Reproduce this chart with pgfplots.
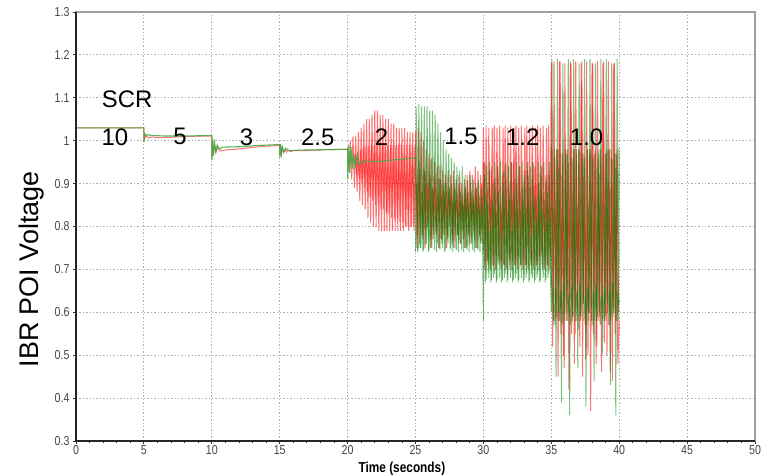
\documentclass[border=0pt]{standalone}
\usepackage{pgfplots}
\pgfplotsset{compat=1.18}
\usepackage{fontspec}
\setmainfont{Liberation Sans}
\newfontfamily\narrowfont[FakeStretch=0.82]{Liberation Sans}
\usetikzlibrary{calc}
\definecolor{sgreen}{RGB}{0,128,0}
\definecolor{lgreen}{RGB}{70,170,70}
\definecolor{sred}{RGB}{255,0,0}
\definecolor{ticklab}{RGB}{70,70,70}
\begin{document}
\begin{tikzpicture}
\begin{axis}[
  name=ax,
  scale only axis,
  width=679bp, height=429bp,
  xmin=0, xmax=50, ymin=0.3, ymax=1.3,
  xtick={0,5,...,50},
  ytick={0.3,0.4,0.5,0.6,0.7,0.8,0.9,1,1.1,1.2,1.3},
  minor x tick num=4,
  tick align=outside,
  major tick length=3bp, minor tick length=2bp,
  tick style={black!80, line width=0.8bp},
  xtick pos=bottom, ytick pos=left,
  grid=major,
  major grid style={gray!65, dash pattern=on 1.4bp off 2bp, line width=0.8bp},
  axis line style={draw=gray!75, line width=1.5bp},
  /pgf/number format/assume math mode=true,
  ticklabel style={font=\narrowfont\fontsize{13}{14}\selectfont, text=ticklab},
  xticklabel style={yshift=0.5bp, inner ysep=2bp},
  xlabel={Time (seconds)},
  xlabel style={font=\narrowfont\bfseries\fontsize{14.5}{15}\selectfont, at={(axis description cs:0.48,-0.064)}, anchor=center},
  ylabel={IBR POI Voltage},
  ylabel style={font=\fontsize{27}{28}\selectfont, at={(axis description cs:-0.0655,0.40)}, anchor=center},
  clip=true,
]
% red series A
\addplot[sred, line width=1bp, opacity=0.55] coordinates {
(0,1.03)(5,1.03)(5.01,1.0)(5.05,1.015)(5.12,1.008)(5.2,1.012)(5.35,1.006)(5.6,1.009)(6,1.007)(7,1.008)(8,1.01)(10,1.011)
(10.01,0.96)(10.06,1.0)(10.12,0.97)(10.2,0.99)(10.3,0.972)(10.45,0.985)(10.6,0.976)(10.9,0.978)(12,0.981)(13.5,0.986)(15,0.989)
(15.01,0.965)(15.06,0.99)(15.12,0.97)(15.2,0.983)(15.3,0.972)(15.4,0.98)(15.5,0.973)(15.6,0.978)(15.8,0.974)(16,0.977)(17,0.977)(18.5,0.979)(20,0.98)
(20.1,0.93)(20.2,1.00)(20.3,0.91)(20.4,1.01)(20.5,0.89)(20.6,1.01)(20.7,0.88)(20.8,1.02)(20.9,0.86)(21.0,1.03)
(21.1,0.85)(21.2,1.04)(21.3,0.84)(21.4,1.05)(21.5,0.82)(21.6,1.05)(21.7,0.81)(21.8,1.06)(21.9,0.80)(22.0,1.07)
(22.1,0.80)(22.2,1.07)(22.3,0.79)(22.4,1.06)(22.5,0.79)(22.6,1.06)(22.7,0.79)(22.8,1.05)(22.9,0.79)(23.0,1.05)
(23.1,0.79)(23.2,1.04)(23.3,0.79)(23.4,1.04)(23.5,0.79)(23.6,1.03)(23.7,0.79)(23.8,1.03)(23.9,0.79)(24.0,1.03)
(24.1,0.79)(24.2,1.03)(24.3,0.80)(24.4,1.02)(24.5,0.79)(24.6,1.02)(24.7,0.80)(24.8,1.02)(24.9,0.79)(25.0,1.02)
(25.1,0.75)(25.2,1.03)(25.3,0.76)(25.4,1.02)(25.5,0.78)(25.6,1.00)(25.7,0.75)(25.8,0.98)(25.9,0.80)(26.0,0.97)
(26.1,0.75)(26.2,0.96)(26.3,0.77)(26.4,0.95)(26.5,0.79)(26.6,0.94)(26.7,0.75)(26.8,0.94)(26.9,0.77)(27.0,0.93)
(27.1,0.78)(27.2,0.92)(27.3,0.75)(27.4,0.93)(27.5,0.80)(27.6,0.92)(27.7,0.76)(27.8,0.93)(27.9,0.75)(28.0,0.91)
(28.1,0.78)(28.2,0.92)(28.3,0.76)(28.4,0.90)(28.5,0.79)(28.6,0.91)(28.7,0.75)(28.8,0.92)(28.9,0.78)(29.0,0.93)
(29.1,0.76)(29.2,0.92)(29.3,0.79)(29.4,0.94)(29.5,0.75)(29.6,0.93)(29.7,0.78)(29.8,0.92)(29.9,0.76)(30.0,1.03)
(30.1,0.70)(30.2,1.035)(30.3,0.72)(30.4,1.03)(30.5,0.70)(30.6,0.94)(30.7,0.71)(30.8,1.035)(30.9,0.70)(31.0,1.03)
(31.1,0.73)(31.2,1.035)(31.3,0.70)(31.4,0.92)(31.5,0.71)(31.6,1.035)(31.7,0.70)(31.8,1.03)(31.9,0.72)(32.0,1.035)
(32.1,0.70)(32.2,0.95)(32.3,0.71)(32.4,1.035)(32.5,0.70)(32.6,1.03)(32.7,0.73)(32.8,1.035)(32.9,0.70)(33.0,0.93)
(33.1,0.71)(33.2,1.035)(33.3,0.70)(33.4,1.03)(33.5,0.72)(33.6,1.035)(33.7,0.70)(33.8,0.94)(33.9,0.71)(34.0,1.035)
(34.1,0.70)(34.2,1.03)(34.3,0.73)(34.4,1.035)(34.5,0.70)(34.6,0.92)(34.7,0.71)(34.8,1.035)(34.9,0.70)(35.0,1.18)
(35.1,0.52)(35.2,1.185)(35.3,0.58)(35.4,0.98)(35.5,0.45)(35.6,1.185)(35.7,0.55)(35.8,0.97)(35.9,0.50)(36.0,1.18)
(36.1,0.58)(36.2,0.98)(36.3,0.42)(36.4,1.185)(36.5,0.55)(36.6,0.96)(36.7,0.48)(36.8,1.185)(36.9,0.58)(37.0,0.98)
(37.1,0.52)(37.2,1.18)(37.3,0.45)(37.4,0.97)(37.5,0.57)(37.6,1.185)(37.7,0.50)(37.8,0.98)(37.9,0.37)(38.0,1.18)
(38.1,0.55)(38.2,0.97)(38.3,0.48)(38.4,1.185)(38.5,0.58)(38.6,0.98)(38.7,0.46)(38.8,1.18)(38.9,0.53)(39.0,0.97)
(39.1,0.50)(39.2,1.185)(39.3,0.57)(39.4,0.98)(39.5,0.44)(39.6,1.18)(39.7,0.55)(39.8,0.97)(39.9,0.48)(40.0,0.58)
};
% red inner oscillation (SCR 2)
\addplot[sred, line width=1bp, opacity=0.45] coordinates {
(20.55,0.97)(20.65,0.92)(20.75,0.975)(20.85,0.91)(20.95,0.98)(21.05,0.90)(21.15,0.98)(21.25,0.89)(21.35,0.985)(21.45,0.88)
(21.55,0.985)(21.65,0.87)(21.75,0.99)(21.85,0.86)(21.95,0.99)(22.05,0.85)(22.15,0.99)(22.25,0.85)(22.35,0.99)(22.45,0.84)
(22.55,0.99)(22.65,0.84)(22.75,0.99)(22.85,0.83)(22.95,0.99)(23.05,0.83)(23.15,0.99)(23.25,0.82)(23.35,0.99)(23.45,0.82)
(23.55,0.99)(23.65,0.82)(23.75,0.99)(23.85,0.81)(23.95,0.99)(24.05,0.81)(24.15,0.99)(24.25,0.80)(24.35,0.99)(24.45,0.80)
(24.55,0.99)(24.65,0.80)(24.75,0.99)(24.85,0.80)(24.95,0.99)
};
% red series B (25-40)
\addplot[sred, line width=1bp, opacity=0.55] coordinates {
(25.05,0.90)(25.15,0.78)(25.25,0.92)(25.35,0.80)(25.45,0.88)(25.55,0.77)(25.65,0.93)(25.75,0.79)(25.85,0.90)(25.95,0.81)
(26.05,0.91)(26.15,0.77)(26.25,0.89)(26.35,0.80)(26.45,0.92)(26.55,0.78)(26.65,0.88)(26.75,0.81)(26.85,0.91)(26.95,0.77)
(27.05,0.89)(27.15,0.80)(27.25,0.90)(27.35,0.78)(27.45,0.88)(27.55,0.82)(27.65,0.90)(27.75,0.77)(27.85,0.89)(27.95,0.80)
(28.05,0.88)(28.15,0.78)(28.25,0.90)(28.35,0.81)(28.45,0.87)(28.55,0.77)(28.65,0.89)(28.75,0.80)(28.85,0.88)(28.95,0.78)
(29.05,0.90)(29.15,0.81)(29.25,0.87)(29.35,0.77)(29.45,0.89)(29.55,0.80)(29.65,0.88)(29.75,0.78)(29.85,0.90)(29.95,0.79)
(30.05,0.95)(30.15,0.72)(30.25,0.88)(30.35,0.71)(30.45,0.93)(30.55,0.74)(30.65,1.03)(30.75,0.71)(30.85,0.90)(30.95,0.73)
(31.05,0.94)(31.15,0.71)(31.25,0.86)(31.35,0.72)(31.45,1.03)(31.55,0.71)(31.65,0.92)(31.75,0.74)(31.85,0.89)(31.95,0.71)
(32.05,0.95)(32.15,0.72)(32.25,1.03)(32.35,0.71)(32.45,0.90)(32.55,0.73)(32.65,0.94)(32.75,0.71)(32.85,0.87)(32.95,0.72)
(33.05,1.03)(33.15,0.71)(33.25,0.93)(33.35,0.74)(33.45,0.89)(33.55,0.71)(33.65,0.95)(33.75,0.72)(33.85,1.03)(33.95,0.71)
(34.05,0.90)(34.15,0.73)(34.25,0.94)(34.35,0.71)(34.45,0.88)(34.55,0.72)(34.65,1.03)(34.75,0.71)(34.85,0.92)(34.95,0.73)
(35.05,0.98)(35.15,0.60)(35.25,0.96)(35.35,0.62)(35.45,0.98)(35.55,0.58)(35.65,1.185)(35.75,0.61)(35.85,0.97)(35.95,0.47)
(36.05,0.98)(36.15,0.60)(36.25,0.95)(36.35,0.63)(36.45,1.18)(36.55,0.59)(36.65,0.98)(36.75,0.55)(36.85,0.97)(36.95,0.61)
(37.05,0.98)(37.15,0.58)(37.25,1.185)(37.35,0.62)(37.45,0.96)(37.55,0.49)(37.65,0.98)(37.75,0.60)(37.85,0.97)(37.95,0.58)
(38.05,1.18)(38.15,0.62)(38.25,0.98)(38.35,0.52)(38.45,0.96)(38.55,0.59)(38.65,0.98)(38.75,0.61)(38.85,1.185)(38.95,0.58)
(39.05,0.97)(39.15,0.60)(39.25,0.98)(39.35,0.46)(39.45,0.96)(39.55,0.61)(39.65,1.18)(39.75,0.58)(39.85,0.98)(39.95,0.60)
};
% green early part (0-25)
\addplot[lgreen, line width=1.1bp, opacity=0.9] coordinates {
(0,1.03)(5,1.03)(5.01,0.997)(5.05,1.017)(5.15,1.012)(5.3,1.014)(5.6,1.012)(6.5,1.011)(8,1.011)(10,1.012)
(10.01,0.955)(10.06,1.005)(10.12,0.965)(10.2,0.995)(10.3,0.975)(10.4,0.99)(10.55,0.98)(10.8,0.985)(12,0.986)(13.5,0.989)(15,0.991)
(15.01,0.962)(15.06,0.992)(15.12,0.968)(15.2,0.985)(15.3,0.974)(15.45,0.982)(15.7,0.977)(16.5,0.978)(18,0.979)(20,0.98)
(20.01,0.91)(20.08,0.99)(20.16,0.925)(20.25,0.985)(20.35,0.935)(20.45,0.97)(20.55,0.94)(20.7,0.965)(20.85,0.945)(21.1,0.952)(22,0.951)(23,0.954)(24,0.957)(25,0.96)
};
% green series A (25-40)
\addplot[sgreen, line width=1bp, opacity=0.5] coordinates {
(25,0.96)(25.0,0.74)(25.05,1.08)(25.15,0.74)(25.25,1.085)(25.35,0.75)(25.45,1.08)(25.55,0.74)(25.65,1.08)(25.75,0.76)(25.85,1.08)
(25.95,0.74)(26.05,1.07)(26.15,0.75)(26.25,1.07)(26.35,0.78)(26.45,1.06)(26.55,0.74)(26.65,1.04)(26.75,0.75)(26.85,1.02)
(26.95,0.76)(27.05,1.00)(27.15,0.74)(27.25,0.98)(27.35,0.77)(27.45,0.97)(27.55,0.75)(27.65,0.96)(27.75,0.74)(27.85,0.95)
(27.95,0.78)(28.05,0.94)(28.15,0.74)(28.25,0.93)(28.35,0.76)(28.45,0.94)(28.55,0.74)(28.65,0.92)(28.75,0.75)(28.85,0.91)
(28.95,0.74)(29.05,0.92)(29.15,0.76)(29.25,0.91)(29.35,0.74)(29.45,0.90)(29.55,0.75)(29.65,0.91)(29.75,0.74)(29.85,0.89)
(29.95,0.74)(30.0,0.58)
(30.05,0.95)(30.15,0.67)(30.25,0.94)(30.35,0.70)(30.45,0.95)(30.55,0.67)(30.65,0.86)(30.75,0.68)(30.85,0.95)(30.95,0.67)
(31.05,0.94)(31.15,0.72)(31.25,0.95)(31.35,0.67)(31.45,0.90)(31.55,0.68)(31.65,0.95)(31.75,0.67)(31.85,0.94)(31.95,0.70)
(32.05,0.95)(32.15,0.67)(32.25,0.88)(32.35,0.68)(32.45,0.95)(32.55,0.67)(32.65,0.94)(32.75,0.71)(32.85,0.95)(32.95,0.67)
(33.05,0.92)(33.15,0.68)(33.25,0.95)(33.35,0.67)(33.45,0.94)(33.55,0.69)(33.65,0.95)(33.75,0.67)(33.85,0.87)(33.95,0.68)
(34.05,0.95)(34.15,0.67)(34.25,0.94)(34.35,0.70)(34.45,0.95)(34.55,0.67)(34.65,0.91)(34.75,0.68)(34.85,0.95)(34.95,0.67)
(35.00,0.60)(35.05,1.19)(35.15,0.58)(35.25,0.98)(35.35,0.45)(35.45,1.19)(35.55,0.60)(35.65,0.97)(35.75,0.39)(35.85,1.18)
(35.95,0.58)(36.05,0.98)(36.15,0.62)(36.25,1.19)(36.35,0.36)(36.45,0.96)(36.55,0.58)(36.65,1.19)(36.75,0.60)(36.85,0.98)
(36.95,0.47)(37.05,1.18)(37.15,0.59)(37.25,0.97)(37.35,0.62)(37.45,1.19)(37.55,0.38)(37.65,0.98)(37.75,0.58)(37.85,1.19)
(37.95,0.61)(38.05,0.96)(38.15,0.44)(38.25,1.18)(38.35,0.58)(38.45,0.98)(38.55,0.60)(38.65,1.19)(38.75,0.50)(38.85,0.97)
(38.95,0.58)(39.05,1.19)(39.15,0.62)(39.25,0.98)(39.35,0.43)(39.45,1.18)(39.55,0.59)(39.65,0.97)(39.75,0.36)(39.85,1.19)
(39.95,0.58)(40.00,0.98)
};
% green series B (25-40)
\addplot[sgreen, line width=1bp, opacity=0.5] coordinates {
(25.1,0.90)(25.2,0.745)(25.3,0.95)(25.4,0.75)(25.5,0.88)(25.6,0.745)(25.7,0.93)(25.8,0.76)(25.9,0.86)(26.0,0.745)
(26.1,0.92)(26.2,0.75)(26.3,0.89)(26.4,0.745)(26.5,0.85)(26.6,0.76)(26.7,0.91)(26.8,0.745)(26.9,0.87)(27.0,0.75)
(27.1,0.90)(27.2,0.745)(27.3,0.84)(27.4,0.76)(27.5,0.89)(27.6,0.745)(27.7,0.86)(27.8,0.75)(27.9,0.90)(28.0,0.745)
(28.1,0.83)(28.2,0.76)(28.3,0.88)(28.4,0.745)(28.5,0.85)(28.6,0.75)(28.7,0.89)(28.8,0.745)(28.9,0.84)(29.0,0.76)
(29.1,0.88)(29.2,0.745)(29.3,0.86)(29.4,0.75)(29.5,0.89)(29.6,0.745)(29.7,0.84)(29.8,0.76)(29.9,0.87)(30.0,0.745)
(30.1,0.92)(30.2,0.675)(30.3,0.85)(30.4,0.68)(30.5,0.80)(30.6,0.675)(30.7,0.90)(30.8,0.69)(30.9,0.83)(31.0,0.675)
(31.1,0.88)(31.2,0.68)(31.3,0.78)(31.4,0.675)(31.5,0.93)(31.6,0.69)(31.7,0.82)(31.8,0.675)(31.9,0.87)(32.0,0.68)
(32.1,0.79)(32.2,0.675)(32.3,0.91)(32.4,0.69)(32.5,0.84)(32.6,0.675)(32.7,0.80)(32.8,0.68)(32.9,0.89)(33.0,0.675)
(33.1,0.83)(33.2,0.69)(33.3,0.92)(33.4,0.675)(33.5,0.78)(33.6,0.68)(33.7,0.86)(33.8,0.675)(33.9,0.81)(34.0,0.69)
(34.1,0.90)(34.2,0.675)(34.3,0.84)(34.4,0.68)(34.5,0.79)(34.6,0.675)(34.7,0.88)(34.8,0.69)(34.9,0.82)(35.0,0.675)
(35.1,0.64)(35.2,0.57)(35.3,0.66)(35.4,0.59)(35.5,0.98)(35.6,0.58)(35.7,0.65)(35.8,0.57)(35.9,0.67)(36.0,0.60)
(36.1,0.97)(36.2,0.58)(36.3,0.64)(36.4,0.57)(36.5,0.66)(36.6,0.59)(36.7,0.98)(36.8,0.58)(36.9,0.65)(37.0,0.56)
(37.1,0.67)(37.2,0.59)(37.3,0.96)(37.4,0.58)(37.5,0.64)(37.6,0.57)(37.7,0.66)(37.8,0.60)(37.9,0.98)(38.0,0.57)
(38.1,0.65)(38.2,0.58)(38.3,0.67)(38.4,0.59)(38.5,0.97)(38.6,0.57)(38.7,0.64)(38.8,0.58)(38.9,0.66)(39.0,0.59)
(39.1,0.98)(39.2,0.57)(39.3,0.65)(39.4,0.58)(39.5,0.67)(39.6,0.60)(39.7,0.97)(39.8,0.58)(39.9,0.64)(40.0,0.62)
};
\node[font=\fontsize{24}{24}\selectfont] at (axis cs:3.76,1.097) {SCR};
\node[font=\fontsize{24}{24}\selectfont] at (axis cs:2.87,1.009) {10};
\node[font=\fontsize{24}{24}\selectfont] at (axis cs:7.66,1.009) {5};
\node[font=\fontsize{24}{24}\selectfont] at (axis cs:12.55,1.009) {3};
\node[font=\fontsize{24}{24}\selectfont] at (axis cs:17.8,1.009) {2.5};
\node[font=\fontsize{24}{24}\selectfont] at (axis cs:22.5,1.009) {2};
\node[font=\fontsize{24}{24}\selectfont] at (axis cs:28.35,1.009) {1.5};
\node[font=\fontsize{24}{24}\selectfont] at (axis cs:32.9,1.009) {1.2};
\node[font=\fontsize{24}{24}\selectfont] at (axis cs:37.6,1.009) {1.0};
\end{axis}
\draw[black!85, line width=1.8bp] (ax.north west) -- (ax.south west) -- (ax.south east);
\pgfresetboundingbox
\path[use as bounding box] ($(ax.south west)+(-76bp,-34bp)$) rectangle ($(ax.north east)+(17bp,12bp)$);
\end{tikzpicture}
\end{document}
